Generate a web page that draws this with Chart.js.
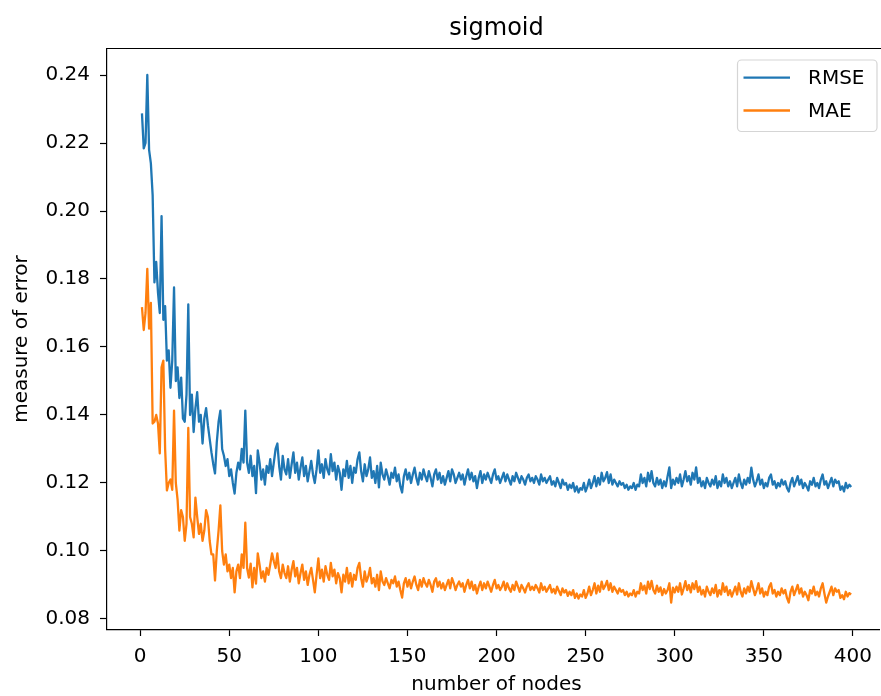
<!DOCTYPE html>
<html><head><meta charset="utf-8">
<script src="https://cdn.jsdelivr.net/npm/chart.js@4/dist/chart.umd.min.js"></script>
<style>html,body{margin:0;padding:0;background:#fff;overflow:hidden}canvas{display:block}</style>
</head><body>
<canvas id="c" width="881" height="696"></canvas>
<script>
const chartTitle = 'sigmoid';
const xAxisLabel = 'number of nodes';
const yAxisLabel = 'measure of error';
const seriesNames = ['RMSE', 'MAE'];
const seriesColors = ['#1f77b4', '#ff7f0e'];
const xStart = 1;
const xTicks = [0, 50, 100, 150, 200, 250, 300, 350, 400];
const yTicks = [0.08, 0.10, 0.12, 0.14, 0.16, 0.18, 0.20, 0.22, 0.24];

const rmse = [
0.2287,0.2184,0.2200,0.2400,0.2180,0.2140,0.2046,0.1790,0.1850,0.1760,0.1700,0.1985,0.1680,0.1720,0.1560,0.1590,0.1480,0.1560,0.1775,0.1500,
0.1540,0.1450,0.1510,0.1390,0.1380,0.1460,0.1725,0.1400,0.1460,0.1350,0.1420,0.1467,0.1380,0.1400,0.1316,0.1390,0.1420,0.1370,0.1330,0.1290,
0.1256,0.1228,0.1320,0.1380,0.1413,0.1300,0.1280,0.1250,0.1270,0.1220,0.1240,0.1200,0.1169,0.1230,0.1260,0.1240,0.1300,0.1260,0.1413,0.1260,
0.1230,0.1280,0.1220,0.1250,0.1170,0.1296,0.1260,0.1210,0.1240,0.1195,0.1250,0.1230,0.1270,0.1220,0.1260,0.1300,0.1316,0.1250,0.1210,0.1280,
0.1240,0.1225,0.1270,0.1215,0.1255,0.1290,0.1230,0.1260,0.1210,0.1245,0.1275,0.1220,0.1250,0.1205,0.1235,0.1265,0.1225,0.1200,0.1240,0.1296,
0.1230,0.1255,0.1215,0.1270,0.1240,0.1225,0.1285,0.1235,0.1260,0.1210,0.1250,0.1230,0.1180,0.1240,0.1220,0.1265,0.1215,0.1250,0.1200,0.1245,
0.1230,0.1270,0.1290,0.1235,0.1205,0.1255,0.1220,0.1240,0.1275,0.1215,0.1235,0.1200,0.1250,0.1187,0.1260,0.1225,0.1210,0.1240,0.1220,0.1195,
0.1230,0.1215,0.1245,0.1205,0.1225,0.1190,0.1172,0.1220,0.1240,0.1210,0.1230,0.1200,0.1225,0.1245,0.1215,0.1195,0.1230,0.1210,0.1240,0.1220,
0.1205,0.1235,0.1215,0.1190,0.1225,0.1240,0.1210,0.1230,0.1200,0.1220,0.1195,0.1215,0.1235,0.1205,0.1240,0.1225,0.1200,0.1215,0.1230,0.1210,
0.1225,0.1195,0.1220,0.1240,0.1210,0.1230,0.1205,0.1220,0.1185,0.1215,0.1235,0.1200,0.1225,0.1210,0.1230,0.1215,0.1200,0.1225,0.1240,0.1210,
0.1220,0.1200,0.1215,0.1230,0.1205,0.1225,0.1210,0.1195,0.1220,0.1205,0.1230,0.1215,0.1200,0.1220,0.1210,0.1195,0.1215,0.1225,0.1205,0.1215,
0.1200,0.1220,0.1210,0.1195,0.1225,0.1205,0.1215,0.1200,0.1210,0.1220,0.1195,0.1205,0.1190,0.1215,0.1200,0.1185,0.1210,0.1195,0.1200,0.1180,
0.1195,0.1185,0.1200,0.1175,0.1190,0.1172,0.1185,0.1180,0.1200,0.1175,0.1190,0.1210,0.1185,0.1200,0.1220,0.1190,0.1215,0.1195,0.1230,0.1205,
0.1215,0.1232,0.1200,0.1225,0.1195,0.1210,0.1200,0.1190,0.1205,0.1195,0.1200,0.1185,0.1195,0.1180,0.1190,0.1185,0.1200,0.1180,0.1195,0.1190,
0.1225,0.1200,0.1215,0.1190,0.1230,0.1205,0.1235,0.1200,0.1190,0.1215,0.1195,0.1210,0.1185,0.1205,0.1190,0.1220,0.1246,0.1185,0.1210,0.1195,
0.1215,0.1200,0.1225,0.1190,0.1210,0.1235,0.1205,0.1220,0.1195,0.1230,0.1210,0.1246,0.1200,0.1215,0.1190,0.1205,0.1185,0.1215,0.1200,0.1190,
0.1210,0.1195,0.1220,0.1185,0.1205,0.1190,0.1225,0.1200,0.1215,0.1190,0.1205,0.1185,0.1200,0.1215,0.1190,0.1225,0.1200,0.1185,0.1210,0.1195,
0.1215,0.1200,0.1245,0.1210,0.1190,0.1205,0.1225,0.1195,0.1210,0.1185,0.1200,0.1190,0.1215,0.1225,0.1195,0.1205,0.1185,0.1200,0.1190,0.1210,
0.1195,0.1205,0.1185,0.1175,0.1200,0.1215,0.1190,0.1205,0.1220,0.1195,0.1210,0.1185,0.1200,0.1190,0.1178,0.1205,0.1195,0.1215,0.1190,0.1200,
0.1185,0.1210,0.1225,0.1195,0.1205,0.1185,0.1200,0.1215,0.1190,0.1210,0.1200,0.1205,0.1180,0.1190,0.1175,0.1200,0.1185,0.1195,0.1188
];

const mae = [
0.1717,0.1650,0.1700,0.1830,0.1654,0.1730,0.1375,0.1380,0.1400,0.1375,0.1287,0.1540,0.1560,0.1300,0.1178,0.1200,0.1210,0.1180,0.1413,0.1200,
0.1150,0.1060,0.1120,0.1100,0.1030,0.1080,0.1362,0.1100,0.1080,0.1040,0.1157,0.1100,0.1050,0.1080,0.1030,0.1060,0.1120,0.1100,0.1030,0.0990,
0.0990,0.0913,0.1000,0.1060,0.1134,0.1000,0.0960,0.0990,0.0940,0.0960,0.0920,0.0950,0.0878,0.0940,0.0960,0.0920,0.0990,0.0950,0.1083,0.0950,
0.0922,0.0963,0.0893,0.0950,0.0904,0.0993,0.0960,0.0920,0.0940,0.0910,0.0950,0.0930,0.0960,0.0993,0.0970,0.0950,0.0993,0.0940,0.0920,0.0960,
0.0935,0.0920,0.0955,0.0910,0.0945,0.0970,0.0925,0.0950,0.0905,0.0935,0.0960,0.0915,0.0940,0.0900,0.0930,0.0950,0.0915,0.0878,0.0930,0.0978,
0.0920,0.0945,0.0910,0.0955,0.0930,0.0915,0.0965,0.0925,0.0945,0.0905,0.0935,0.0920,0.0878,0.0930,0.0910,0.0950,0.0905,0.0935,0.0895,0.0930,
0.0915,0.0950,0.0965,0.0920,0.0895,0.0940,0.0910,0.0925,0.0950,0.0905,0.0920,0.0895,0.0930,0.0885,0.0940,0.0910,0.0900,0.0920,0.0905,0.0890,
0.0915,0.0905,0.0925,0.0895,0.0910,0.0885,0.0863,0.0905,0.0920,0.0895,0.0915,0.0890,0.0910,0.0925,0.0900,0.0885,0.0915,0.0895,0.0920,0.0905,
0.0895,0.0915,0.0900,0.0880,0.0910,0.0920,0.0895,0.0910,0.0890,0.0905,0.0885,0.0900,0.0915,0.0890,0.0920,0.0905,0.0885,0.0900,0.0910,0.0895,
0.0905,0.0880,0.0900,0.0915,0.0890,0.0910,0.0885,0.0900,0.0875,0.0895,0.0910,0.0885,0.0905,0.0890,0.0910,0.0895,0.0880,0.0900,0.0915,0.0890,
0.0900,0.0885,0.0895,0.0910,0.0885,0.0905,0.0890,0.0880,0.0900,0.0885,0.0910,0.0895,0.0880,0.0900,0.0890,0.0878,0.0895,0.0905,0.0885,0.0895,
0.0885,0.0900,0.0890,0.0878,0.0905,0.0885,0.0895,0.0880,0.0890,0.0900,0.0878,0.0888,0.0875,0.0895,0.0882,0.0870,0.0890,0.0878,0.0885,0.0868,
0.0880,0.0870,0.0885,0.0862,0.0875,0.0860,0.0872,0.0866,0.0885,0.0862,0.0875,0.0895,0.0870,0.0885,0.0905,0.0875,0.0898,0.0880,0.0910,0.0888,
0.0898,0.0912,0.0885,0.0905,0.0880,0.0895,0.0885,0.0875,0.0890,0.0880,0.0885,0.0870,0.0880,0.0866,0.0875,0.0870,0.0885,0.0866,0.0880,0.0875,
0.0905,0.0885,0.0898,0.0875,0.0910,0.0888,0.0912,0.0885,0.0875,0.0898,0.0880,0.0893,0.0870,0.0888,0.0875,0.0885,0.0905,0.0848,0.0892,0.0878,
0.0895,0.0880,0.0905,0.0872,0.0890,0.0911,0.0885,0.0900,0.0878,0.0905,0.0888,0.0911,0.0880,0.0895,0.0872,0.0885,0.0866,0.0895,0.0880,0.0870,
0.0890,0.0876,0.0900,0.0866,0.0885,0.0872,0.0905,0.0880,0.0895,0.0870,0.0885,0.0866,0.0880,0.0895,0.0872,0.0905,0.0880,0.0866,0.0890,0.0875,
0.0895,0.0880,0.0911,0.0890,0.0870,0.0885,0.0905,0.0875,0.0890,0.0866,0.0880,0.0870,0.0895,0.0905,0.0875,0.0885,0.0866,0.0880,0.0870,0.0890,
0.0875,0.0885,0.0862,0.0848,0.0880,0.0895,0.0870,0.0885,0.0900,0.0875,0.0890,0.0866,0.0880,0.0870,0.0855,0.0885,0.0875,0.0895,0.0870,0.0880,
0.0866,0.0890,0.0905,0.0875,0.0848,0.0866,0.0880,0.0895,0.0870,0.0890,0.0880,0.0885,0.0862,0.0870,0.0858,0.0880,0.0866,0.0876,0.0872
];

const FONT = '"DejaVu Sans", "Liberation Sans", sans-serif';
const toPoints = arr => arr.map((v, i) => ({ x: xStart + i, y: v }));
// full axis extent (data range plus 5% margin); the right part falls outside the cropped picture
const xAxisMin = -18.9, xAxisFullMax = 418.9;

const framePlugin = {
  id: 'frame',
  afterDraw(chart) {
    const { ctx, chartArea: a } = chart;
    const xs = chart.scales.x;
    const cx = (xs.getPixelForValue(xAxisMin) + xs.getPixelForValue(xAxisFullMax)) / 2;
    ctx.save();
    ctx.strokeStyle = '#000';
    ctx.lineWidth = 1.2;
    ctx.beginPath();
    ctx.moveTo(a.left, a.top); ctx.lineTo(a.right + 2, a.top);
    ctx.stroke();
    ctx.fillStyle = '#000';
    ctx.textAlign = 'center';
    ctx.font = '24px ' + FONT;
    ctx.textBaseline = 'alphabetic';
    ctx.fillText(chartTitle, cx, 34.5);
    ctx.font = '20px ' + FONT;
    ctx.textBaseline = 'middle';
    ctx.fillText(xAxisLabel, cx, 685);
    // legend
    const bx = 737.5, by = 60, bw = 139.5, bh = 71.5, r = 4;
    ctx.fillStyle = 'rgba(255,255,255,0.8)';
    ctx.strokeStyle = '#d5d5d5';
    ctx.lineWidth = 1.2;
    ctx.beginPath();
    ctx.moveTo(bx + r, by); ctx.lineTo(bx + bw - r, by); ctx.arcTo(bx + bw, by, bx + bw, by + r, r);
    ctx.lineTo(bx + bw, by + bh - r); ctx.arcTo(bx + bw, by + bh, bx + bw - r, by + bh, r);
    ctx.lineTo(bx + r, by + bh); ctx.arcTo(bx, by + bh, bx, by + bh - r, r);
    ctx.lineTo(bx, by + r); ctx.arcTo(bx, by, bx + r, by, r);
    ctx.closePath(); ctx.fill(); ctx.stroke();
    const rows = [77.7, 110.5];
    chart.data.datasets.forEach((ds, i) => {
      ctx.strokeStyle = ds.borderColor;
      ctx.lineWidth = 2.3;
      ctx.beginPath(); ctx.moveTo(743.5, rows[i]); ctx.lineTo(790, rows[i]); ctx.stroke();
      ctx.fillStyle = '#000';
      ctx.font = '20px ' + FONT;
      ctx.textAlign = 'left';
      ctx.textBaseline = 'middle';
      ctx.fillText(ds.label, 808, rows[i] + 1);
    });
    ctx.restore();
  }
};

new Chart(document.getElementById('c'), {
  type: 'line',
  data: {
    datasets: [
      { label: seriesNames[0], data: toPoints(rmse), borderColor: seriesColors[0], backgroundColor: seriesColors[0] },
      { label: seriesNames[1], data: toPoints(mae), borderColor: seriesColors[1], backgroundColor: seriesColors[1] }
    ]
  },
  options: {
    responsive: false,
    devicePixelRatio: 1,
    animation: false,
    layout: { padding: { left: 0, top: 48.5, right: 0, bottom: 0 } },
    elements: {
      line: { borderWidth: 2.3, tension: 0, fill: false, borderJoinStyle: 'round', borderCapStyle: 'butt' },
      point: { radius: 0, hoverRadius: 0 }
    },
    plugins: { legend: { display: false }, tooltip: { enabled: false }, title: { display: false } },
    scales: {
      x: {
        type: 'linear', min: xAxisMin, max: 414.9,
        afterBuildTicks: s => { s.ticks = xTicks.map(v => ({ value: v })); },
        afterFit: s => { s.height = 696 - 629.5; },
        ticks: { color: '#000', font: { family: FONT, size: 20 }, padding: 9, maxRotation: 0, autoSkip: false, callback: v => String(v) },
        grid: { drawOnChartArea: false, drawTicks: true, tickLength: 6.5, tickWidth: 1.2, tickColor: '#000' },
        border: { display: true, color: '#000', width: 1.2 },
        title: { display: false, text: xAxisLabel }
      },
      y: {
        type: 'linear', min: 0.0769, max: 0.2478,
        afterBuildTicks: s => { s.ticks = yTicks.map(v => ({ value: v })); },
        afterFit: s => { s.width = 106.5; },
        ticks: { color: '#000', font: { family: FONT, size: 20 }, padding: 10, autoSkip: false, callback: v => Number(v).toFixed(2) },
        grid: { drawOnChartArea: false, drawTicks: true, tickLength: 6.5, tickWidth: 1.2, tickColor: '#000' },
        border: { display: true, color: '#000', width: 1.2 },
        title: { display: true, text: yAxisLabel, color: '#000', font: { family: FONT, size: 20 }, padding: { top: 10, bottom: 0 } }
      }
    }
  },
  plugins: [framePlugin]
});
</script>
</body></html>
